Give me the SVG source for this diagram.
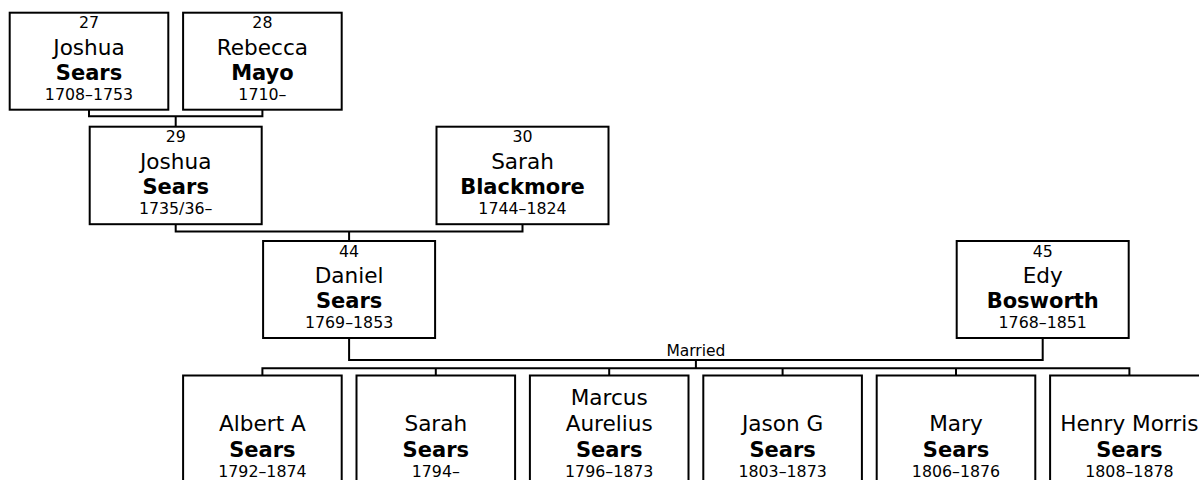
<svg xmlns="http://www.w3.org/2000/svg" width="1199" height="480" viewBox="0 0 1199 480">
<style>
rect.box{fill:#fff;stroke:#000;stroke-width:2}
.conn path{fill:none;stroke:#000;stroke-width:2}
text{font-family:"DejaVu Sans",Verdana,sans-serif;fill:#000;text-anchor:middle}
.num,.date{font-size:15.8px}
.name{font-size:21.6px}
.sur{font-size:21px;font-weight:bold}
.lbl{font-size:15.5px}
</style>
<rect width="1199" height="480" fill="#fff"/>
<g class="conn" id="connectors">
<path d="M89,109.7 V116.2 H262.4 V109.7 M175.7,116.2 V126.7"/>
<path d="M175.7,224.2 V231.5 H522.5 V224.2 M349.1,231.5 V241"/>
<path d="M349.1,338 V360 H1042.7 V338 M695.9,360 V368.3"/>
<path d="M262.4,375.5 V368.3 H1129.4 V375.5 M435.8,368.3 V375.5 M609.2,368.3 V375.5 M782.6,368.3 V375.5 M956,368.3 V375.5"/>
<text class="lbl" x="695.9" y="356">Married</text>
</g>
<g id="p27">
<rect class="box" x="9.7" y="12.7" width="158.6" height="97"/>
<text class="num" x="89" y="28.4">27</text>
<text class="name" x="89" y="54.6">Joshua</text>
<text class="sur" x="89" y="80">Sears</text>
<text class="date" x="89" y="100">1708–1753</text>
</g>
<g id="p28">
<rect class="box" x="183.1" y="12.7" width="158.6" height="97"/>
<text class="num" x="262.4" y="28.4">28</text>
<text class="name" x="262.4" y="54.6">Rebecca</text>
<text class="sur" x="262.4" y="80">Mayo</text>
<text class="date" x="262.4" y="100">1710–</text>
</g>
<g id="p29">
<rect class="box" x="89.7" y="126.7" width="172" height="97.5"/>
<text class="num" x="175.7" y="142.4">29</text>
<text class="name" x="175.7" y="168.6">Joshua</text>
<text class="sur" x="175.7" y="194">Sears</text>
<text class="date" x="175.7" y="214">1735/36–</text>
</g>
<g id="p30">
<rect class="box" x="436.5" y="126.7" width="172" height="97.5"/>
<text class="num" x="522.5" y="142.4">30</text>
<text class="name" x="522.5" y="168.6">Sarah</text>
<text class="sur" x="522.5" y="194">Blackmore</text>
<text class="date" x="522.5" y="214">1744–1824</text>
</g>
<g id="p44">
<rect class="box" x="263.1" y="241" width="172" height="97"/>
<text class="num" x="349.1" y="256.7">44</text>
<text class="name" x="349.1" y="282.7">Daniel</text>
<text class="sur" x="349.1" y="308">Sears</text>
<text class="date" x="349.1" y="328">1769–1853</text>
</g>
<g id="p45">
<rect class="box" x="956.7" y="241" width="172" height="97"/>
<text class="num" x="1042.7" y="256.7">45</text>
<text class="name" x="1042.7" y="282.7">Edy</text>
<text class="sur" x="1042.7" y="308">Bosworth</text>
<text class="date" x="1042.7" y="328">1768–1851</text>
</g>
<g id="c1">
<rect class="box" x="183.1" y="375.5" width="158.6" height="125"/>
<text class="name" x="262.4" y="430.5">Albert A</text>
<text class="sur" x="262.4" y="456.5">Sears</text>
<text class="date" x="262.4" y="476.5">1792–1874</text>
</g>
<g id="c2">
<rect class="box" x="356.5" y="375.5" width="158.6" height="125"/>
<text class="name" x="435.8" y="430.5">Sarah</text>
<text class="sur" x="435.8" y="456.5">Sears</text>
<text class="date" x="435.8" y="476.5">1794–</text>
</g>
<g id="c3">
<rect class="box" x="529.9" y="375.5" width="158.6" height="125"/>
<text class="name" x="609.2" y="405">Marcus</text>
<text class="name" x="609.2" y="430.5">Aurelius</text>
<text class="sur" x="609.2" y="456.5">Sears</text>
<text class="date" x="609.2" y="476.5">1796–1873</text>
</g>
<g id="c4">
<rect class="box" x="703.3" y="375.5" width="158.6" height="125"/>
<text class="name" x="782.6" y="430.5">Jason G</text>
<text class="sur" x="782.6" y="456.5">Sears</text>
<text class="date" x="782.6" y="476.5">1803–1873</text>
</g>
<g id="c5">
<rect class="box" x="876.7" y="375.5" width="158.6" height="125"/>
<text class="name" x="956" y="430.5">Mary</text>
<text class="sur" x="956" y="456.5">Sears</text>
<text class="date" x="956" y="476.5">1806–1876</text>
</g>
<g id="c6">
<rect class="box" x="1050.1" y="375.5" width="158.6" height="125"/>
<text class="name" x="1129.4" y="430.5">Henry Morris</text>
<text class="sur" x="1129.4" y="456.5">Sears</text>
<text class="date" x="1129.4" y="476.5">1808–1878</text>
</g>
</svg>
